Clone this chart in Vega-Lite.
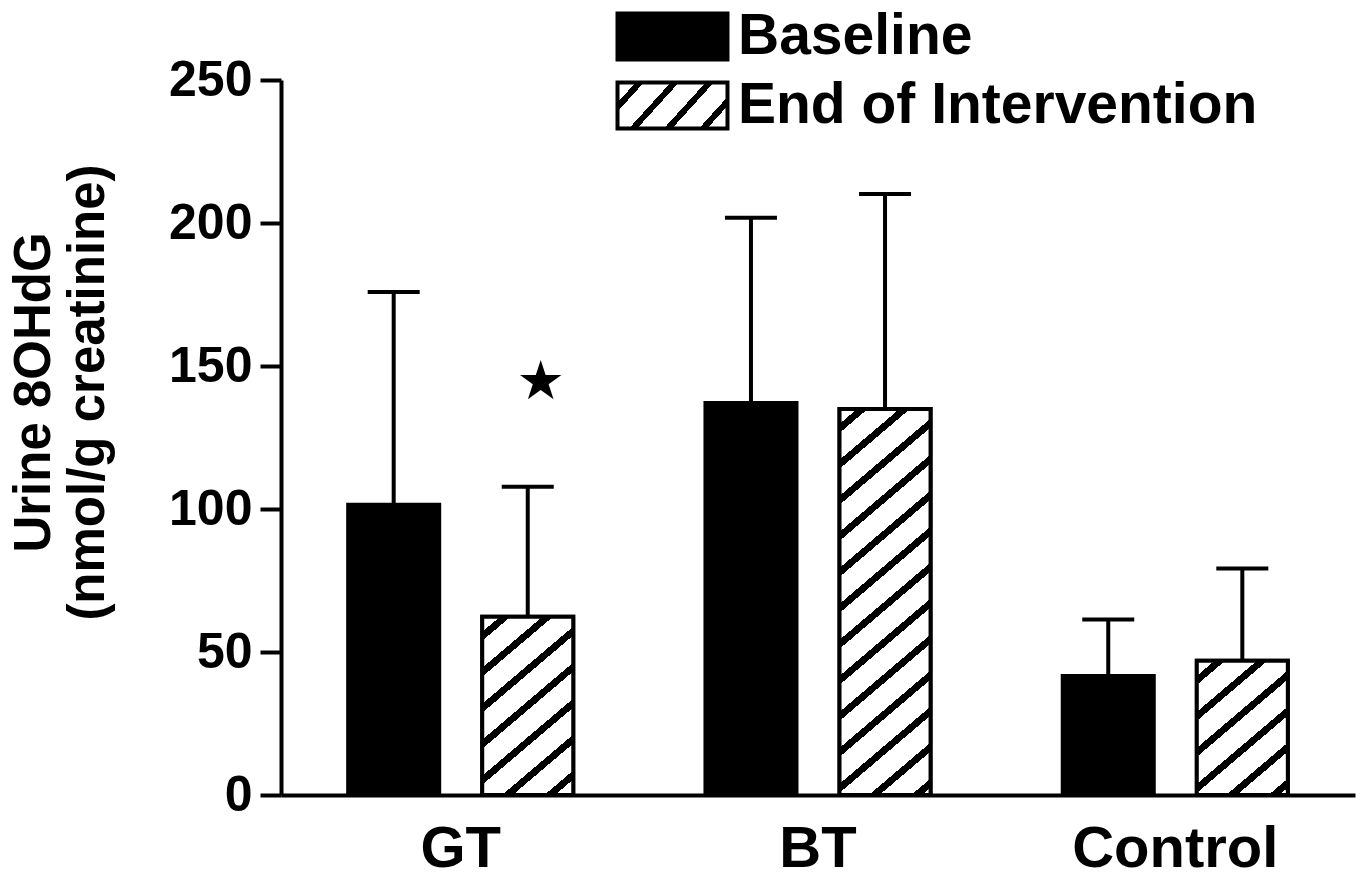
{
  "$schema": "https://vega.github.io/schema/vega-lite/v6.json",
  "autosize": "none",
  "width": 1074,
  "height": 715,
  "padding": {"left": 281, "top": 80, "right": 8, "bottom": 85},
  "background": "white",
  "config": {
    "view": {"stroke": null},
    "font": "Liberation Sans"
  },
  "datasets": {
    "bars": [
      {"group": "GT", "series": "Baseline", "value": 101.5, "upper": 175.9},
      {"group": "GT", "series": "End of Intervention", "value": 62.3, "upper": 107.8},
      {"group": "BT", "series": "Baseline", "value": 137.1, "upper": 201.8},
      {"group": "BT", "series": "End of Intervention", "value": 135.0, "upper": 210.1},
      {"group": "Control", "series": "Baseline", "value": 41.6, "upper": 61.4},
      {"group": "Control", "series": "End of Intervention", "value": 46.9, "upper": 79.2}
    ],
    "marks": [
      {"group": "GT", "series": "End of Intervention", "y": 144, "label": "★"}
    ]
  },
  "data": {"name": "bars"},
  "encoding": {
    "x": {
      "field": "group", "type": "nominal", "sort": ["GT", "BT", "Control"],
      "scale": {"paddingInner": 0.37, "paddingOuter": 0.188},
      "axis": {
        "title": null, "labelAngle": 0, "ticks": false,
        "domainColor": "black", "domainWidth": 4,
        "labelFontSize": 58, "labelFontWeight": "bold", "labelColor": "black",
        "labelPadding": 25, "labelFont": "Liberation Sans", "labelLimit": 600
      }
    },
    "xOffset": {
      "field": "series", "type": "nominal",
      "scale": {"domain": ["Baseline", "End of Intervention"], "paddingInner": 0.321, "paddingOuter": 0}
    }
  },
  "layer": [
    {
      "mark": {"type": "bar", "stroke": "black", "strokeWidth": 4},
      "encoding": {
        "y": {
          "field": "value", "type": "quantitative", "stack": null,
          "scale": {"domain": [0, 250], "nice": false},
          "axis": {
            "values": [0, 50, 100, 150, 200, 250],
            "grid": false,
            "domainColor": "black", "domainWidth": 4,
            "tickColor": "black", "tickWidth": 4, "tickSize": 21,
            "labelFontSize": 50, "labelFontWeight": "bold", "labelColor": "black",
            "labelPadding": 8, "labelFont": "Liberation Sans",
            "title": ["Urine 8OHdG", "(nmol/g creatinine)"],
            "titleFontSize": 51, "titleFontWeight": "bold", "titleColor": "black",
            "titleFont": "Liberation Sans",
            "titleX": -272, "titleY": 312, "titleAlign": "center",
            "titleBaseline": "top", "titleAngle": -90, "titleLineHeight": 54
          }
        },
        "fill": {
          "field": "series", "type": "nominal",
          "scale": {
            "domain": ["Baseline", "End of Intervention"],
            "range": [
              "black",
              {"expr": "{gradient: 'linear', x1: 0, y1: 0, x2: 1.2059, y2: 0.4584, stops: [{offset: 0, color: 'white'}, {offset: 0.1198, color: 'white'}, {offset: 0.1198, color: 'black'}, {offset: 0.1737, color: 'black'}, {offset: 0.1737, color: 'white'}, {offset: 0.3503, color: 'white'}, {offset: 0.3503, color: 'black'}, {offset: 0.4042, color: 'black'}, {offset: 0.4042, color: 'white'}, {offset: 0.5808, color: 'white'}, {offset: 0.5808, color: 'black'}, {offset: 0.6347, color: 'black'}, {offset: 0.6347, color: 'white'}, {offset: 0.8114, color: 'white'}, {offset: 0.8114, color: 'black'}, {offset: 0.8653, color: 'black'}, {offset: 0.8653, color: 'white'}, {offset: 1, color: 'white'}]}"}
            ]
          },
          "legend": {
            "title": null, "orient": "none", "legendX": 363, "legendY": -72, "padding": 0,
            "symbolType": "M-2.391,-1H2.391V1H-2.391Z", "symbolSize": 2116,
            "symbolStrokeWidth": 4, "symbolStrokeColor": "black", "symbolOpacity": 1,
            "labelFontSize": 57, "labelFontWeight": "bold", "labelColor": "black",
            "labelFont": "Liberation Sans", "labelOffset": 37, "rowPadding": 6, "labelLimit": 900,
            "encoding": {
              "symbols": {
                "stroke": {"value": "black"},
                "strokeWidth": {"value": 4}
              }
            }
          }
        }
      }
    },
    {
      "transform": [{"filter": "datum.group === 'GT' && datum.series === 'End of Intervention'"}],
      "mark": {
        "type": "bar", "stroke": "black", "strokeWidth": 4,
        "fill": {
          "gradient": "linear", "x1": 0, "y1": 0, "x2": 0.5238, "y2": 1.2067,
          "stops": [
            {"offset": 0, "color": "white"},
            {"offset": 0.0587, "color": "white"}, {"offset": 0.0587, "color": "black"}, {"offset": 0.0939, "color": "black"}, {"offset": 0.0939, "color": "white"},
            {"offset": 0.1996, "color": "white"}, {"offset": 0.1996, "color": "black"}, {"offset": 0.2348, "color": "black"}, {"offset": 0.2348, "color": "white"},
            {"offset": 0.3404, "color": "white"}, {"offset": 0.3404, "color": "black"}, {"offset": 0.3756, "color": "black"}, {"offset": 0.3756, "color": "white"},
            {"offset": 0.4813, "color": "white"}, {"offset": 0.4813, "color": "black"}, {"offset": 0.5165, "color": "black"}, {"offset": 0.5165, "color": "white"},
            {"offset": 0.6222, "color": "white"}, {"offset": 0.6222, "color": "black"}, {"offset": 0.6574, "color": "black"}, {"offset": 0.6574, "color": "white"},
            {"offset": 0.7631, "color": "white"}, {"offset": 0.7631, "color": "black"}, {"offset": 0.7983, "color": "black"}, {"offset": 0.7983, "color": "white"},
            {"offset": 0.9039, "color": "white"}, {"offset": 0.9039, "color": "black"}, {"offset": 0.9391, "color": "black"}, {"offset": 0.9391, "color": "white"},
            {"offset": 1, "color": "white"}
          ]
        }
      },
      "encoding": {"y": {"field": "value", "type": "quantitative", "stack": null}}
    },
    {
      "transform": [{"filter": "datum.group === 'BT' && datum.series === 'End of Intervention'"}],
      "mark": {
        "type": "bar", "stroke": "black", "strokeWidth": 4,
        "fill": {
          "gradient": "linear", "x1": 0, "y1": 0, "x2": 0.2312, "y2": 1.1540,
          "stops": [
            {"offset": 0, "color": "white"},
            {"offset": 0.0324, "color": "white"}, {"offset": 0.0324, "color": "black"}, {"offset": 0.0518, "color": "black"}, {"offset": 0.0518, "color": "white"},
            {"offset": 0.1100, "color": "white"}, {"offset": 0.1100, "color": "black"}, {"offset": 0.1294, "color": "black"}, {"offset": 0.1294, "color": "white"},
            {"offset": 0.1877, "color": "white"}, {"offset": 0.1877, "color": "black"}, {"offset": 0.2071, "color": "black"}, {"offset": 0.2071, "color": "white"},
            {"offset": 0.2654, "color": "white"}, {"offset": 0.2654, "color": "black"}, {"offset": 0.2848, "color": "black"}, {"offset": 0.2848, "color": "white"},
            {"offset": 0.3431, "color": "white"}, {"offset": 0.3431, "color": "black"}, {"offset": 0.3625, "color": "black"}, {"offset": 0.3625, "color": "white"},
            {"offset": 0.4208, "color": "white"}, {"offset": 0.4208, "color": "black"}, {"offset": 0.4402, "color": "black"}, {"offset": 0.4402, "color": "white"},
            {"offset": 0.4984, "color": "white"}, {"offset": 0.4984, "color": "black"}, {"offset": 0.5178, "color": "black"}, {"offset": 0.5178, "color": "white"},
            {"offset": 0.5761, "color": "white"}, {"offset": 0.5761, "color": "black"}, {"offset": 0.5955, "color": "black"}, {"offset": 0.5955, "color": "white"},
            {"offset": 0.6538, "color": "white"}, {"offset": 0.6538, "color": "black"}, {"offset": 0.6732, "color": "black"}, {"offset": 0.6732, "color": "white"},
            {"offset": 0.7315, "color": "white"}, {"offset": 0.7315, "color": "black"}, {"offset": 0.7509, "color": "black"}, {"offset": 0.7509, "color": "white"},
            {"offset": 0.8091, "color": "white"}, {"offset": 0.8091, "color": "black"}, {"offset": 0.8285, "color": "black"}, {"offset": 0.8285, "color": "white"},
            {"offset": 0.8868, "color": "white"}, {"offset": 0.8868, "color": "black"}, {"offset": 0.9062, "color": "black"}, {"offset": 0.9062, "color": "white"},
            {"offset": 0.9645, "color": "white"}, {"offset": 0.9645, "color": "black"}, {"offset": 0.9839, "color": "black"}, {"offset": 0.9839, "color": "white"},
            {"offset": 1, "color": "white"}
          ]
        }
      },
      "encoding": {"y": {"field": "value", "type": "quantitative", "stack": null}}
    },
    {
      "transform": [{"filter": "datum.group === 'Control' && datum.series === 'End of Intervention'"}],
      "mark": {
        "type": "bar", "stroke": "black", "strokeWidth": 4,
        "fill": {
          "gradient": "linear", "x1": 0, "y1": 0, "x2": 0.6825, "y2": 1.1831,
          "stops": [
            {"offset": 0, "color": "white"},
            {"offset": 0.0709, "color": "white"}, {"offset": 0.0709, "color": "black"}, {"offset": 0.1135, "color": "black"}, {"offset": 0.1135, "color": "white"},
            {"offset": 0.2412, "color": "white"}, {"offset": 0.2412, "color": "black"}, {"offset": 0.2838, "color": "black"}, {"offset": 0.2838, "color": "white"},
            {"offset": 0.4114, "color": "white"}, {"offset": 0.4114, "color": "black"}, {"offset": 0.4540, "color": "black"}, {"offset": 0.4540, "color": "white"},
            {"offset": 0.5817, "color": "white"}, {"offset": 0.5817, "color": "black"}, {"offset": 0.6243, "color": "black"}, {"offset": 0.6243, "color": "white"},
            {"offset": 0.7520, "color": "white"}, {"offset": 0.7520, "color": "black"}, {"offset": 0.7946, "color": "black"}, {"offset": 0.7946, "color": "white"},
            {"offset": 0.9222, "color": "white"}, {"offset": 0.9222, "color": "black"}, {"offset": 0.9648, "color": "black"}, {"offset": 0.9648, "color": "white"},
            {"offset": 1, "color": "white"}
          ]
        }
      },
      "encoding": {"y": {"field": "value", "type": "quantitative", "stack": null}}
    },
    {
      "mark": {"type": "rule", "color": "black", "strokeWidth": 4},
      "encoding": {
        "y": {"field": "value", "type": "quantitative"},
        "y2": {"field": "upper"}
      }
    },
    {
      "mark": {"type": "tick", "color": "black", "thickness": 4, "size": 52, "orient": "horizontal", "opacity": 1},
      "encoding": {
        "y": {"field": "upper", "type": "quantitative"}
      }
    },
    {
      "data": {"name": "marks"},
      "mark": {"type": "text", "font": "DejaVu Sans", "fontSize": 54, "color": "black", "baseline": "middle", "align": "center", "dx": 13},
      "encoding": {
        "y": {"field": "y", "type": "quantitative"},
        "text": {"field": "label"}
      }
    }
  ]
}
